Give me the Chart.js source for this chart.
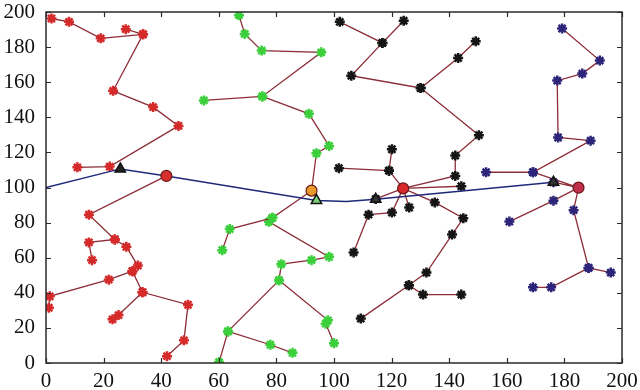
<!DOCTYPE html>
<html>
<head>
<meta charset="utf-8">
<script src="https://cdn.jsdelivr.net/npm/chart.js@4.4.1/dist/chart.umd.min.js"></script>
<style>
  html, body { margin: 0; padding: 0; background: #fff; }
  canvas { display: block; }
</style>
</head>
<body>
<canvas id="netChart" width="640" height="390"></canvas>
<script>
// axis ticks
const xTicks = [0, 20, 40, 60, 80, 100, 120, 140, 160, 180, 200];
const yTicks = [0, 20, 40, 60, 80, 100, 120, 140, 160, 180, 200];

// cluster trees, each path is a polyline of [x, y] nodes
const redPaths = [
  [[1.9, 196.3], [8.0, 194.4], [19.0, 185.0], [33.7, 187.3]],
  [[27.7, 190.2], [33.7, 187.3], [23.3, 155.1], [37.2, 145.8], [46.0, 135.1], [22.1, 111.9], [10.9, 111.5]],
  [[41.8, 106.6], [14.9, 84.5], [23.9, 70.4], [14.9, 68.7], [16.0, 58.6]],
  [[23.9, 70.4], [27.9, 66.2], [31.9, 55.5], [30.0, 52.3], [21.8, 47.5], [1.3, 38.0], [1.0, 31.5]],
  [[30.0, 52.3], [33.5, 40.3], [49.3, 33.2], [47.9, 12.9], [42.0, 3.9]],
  [[33.5, 40.3], [25.2, 27.3], [23.1, 24.9]]
];

const greenPaths = [
  [[67.0, 198.2], [69.0, 187.5], [74.9, 178.0], [95.6, 177.0], [75.1, 151.9], [54.8, 149.6]],
  [[75.1, 151.9], [91.3, 142.0], [98.3, 123.7], [93.9, 119.5], [92.2, 98.2], [78.6, 82.7], [63.8, 76.3], [61.2, 64.3]],
  [[78.6, 82.7], [77.4, 80.5], [98.3, 60.5], [92.2, 58.6], [81.7, 56.3], [80.9, 47.1], [97.9, 24.3], [97.1, 22.4], [100.0, 11.3]],
  [[80.9, 47.1], [63.2, 18.0], [60.1, 0.5]],
  [[63.2, 18.0], [77.9, 10.4], [85.6, 5.8]]
];

const blackPaths = [
  [[102.0, 194.4], [116.8, 182.4], [124.2, 195.0]],
  [[116.8, 182.4], [106.0, 163.7], [130.1, 156.7], [143.1, 173.8], [149.2, 183.3]],
  [[130.1, 156.7], [150.3, 129.8], [142.1, 118.2], [142.1, 106.6], [124.0, 99.5]],
  [[144.2, 100.7], [124.0, 99.5], [119.1, 109.6], [101.7, 111.0]],
  [[120.1, 121.8], [119.1, 109.6]],
  [[124.0, 99.5], [114.5, 93.5]],
  [[124.0, 99.5], [126.1, 88.6]],
  [[124.0, 99.5], [120.1, 85.7], [112.0, 84.5], [106.8, 63.0]],
  [[124.0, 99.5], [135.0, 91.5], [144.9, 82.5], [141.0, 73.2], [132.1, 51.5], [126.0, 44.3], [109.3, 25.3]],
  [[126.0, 44.3], [130.9, 39.0], [144.2, 39.0]]
];

const purplePaths = [
  [[179.2, 190.6], [192.3, 172.3], [186.2, 164.9], [177.5, 160.9], [177.8, 128.5], [189.1, 126.7], [169.1, 108.7], [152.8, 108.7]],
  [[169.1, 108.7], [184.9, 99.9], [176.2, 103.0]],
  [[184.9, 99.9], [176.2, 92.5], [160.9, 80.6]],
  [[184.9, 99.9], [183.2, 87.1], [188.4, 54.2], [196.1, 51.5]],
  [[188.4, 54.2], [175.4, 43.1], [169.1, 43.1]]
];

// cluster heads (circles) and their colours
const headPoints = [[41.8, 106.6], [92.2, 98.2], [124.0, 99.5], [184.9, 99.9]];
const headColors = ['#d83030', '#e89a2a', '#d82a2a', '#c0304a'];

// relay nodes (triangles) and the route to the sink
const relayPoints = [[25.8, 110.6], [93.9, 92.6], [114.5, 93.3], [176.2, 103.0]];
const relayColors = ['#222', '#7ad07a', '#333', '#333'];
const routePath = [[0, 100], [25.8, 110.6], [41.8, 106.6], [93.9, 92.6], [104.3, 92.0], [114.5, 93.3], [176.2, 103.0]];

const edgeColor = 'rgb(140,45,55)';
const toXY = arr => arr.map(p => ({ x: p[0], y: p[1] }));

function pathDatasets(paths, markerColor) {
  return paths.map(path => ({
    data: toXY(path),
    showLine: true,
    borderColor: edgeColor,
    borderWidth: 1.3,
    pointStyle: 'star',
    pointRadius: 5,
    pointBorderWidth: 2.5,
    pointBorderColor: markerColor,
    pointBackgroundColor: markerColor,
    order: 3
  }));
}

const datasets = [
  ...pathDatasets(redPaths, '#d42a2a'),
  ...pathDatasets(greenPaths, '#3ccf3c'),
  ...pathDatasets(blackPaths, '#151515'),
  ...pathDatasets(purplePaths, '#2c2478'),
  {
    data: toXY(routePath),
    showLine: true,
    borderColor: '#1e2a78',
    borderWidth: 1.5,
    pointRadius: 0,
    order: 2
  },
  {
    data: toXY(headPoints),
    showLine: false,
    pointStyle: 'circle',
    pointRadius: 5.5,
    pointBorderWidth: 1.2,
    pointBorderColor: '#6a1a1a',
    pointBackgroundColor: headColors,
    order: 1
  },
  {
    data: toXY(relayPoints),
    showLine: false,
    pointStyle: 'triangle',
    pointRadius: 6,
    pointBorderWidth: 1.5,
    pointBorderColor: '#111',
    pointBackgroundColor: relayColors,
    order: 0
  }
];

// box frame with inward tick marks on all four sides
const frameTicks = {
  id: 'frameTicks',
  afterDraw(chart) {
    const { ctx, chartArea: a, scales: { x, y } } = chart;
    ctx.save();
    ctx.strokeStyle = '#2a2a2a';
    ctx.lineWidth = 1.5;
    ctx.strokeRect(a.left, a.top, a.right - a.left, a.bottom - a.top);
    ctx.lineWidth = 1.2;
    ctx.beginPath();
    xTicks.forEach(v => {
      const px = Math.round(x.getPixelForValue(v)) + 0.5;
      ctx.moveTo(px, a.top); ctx.lineTo(px, a.top + 5);
      ctx.moveTo(px, a.bottom); ctx.lineTo(px, a.bottom - 5);
    });
    yTicks.forEach(v => {
      const py = Math.round(y.getPixelForValue(v)) + 0.5;
      ctx.moveTo(a.left, py); ctx.lineTo(a.left + 5, py);
      ctx.moveTo(a.right, py); ctx.lineTo(a.right - 5, py);
    });
    ctx.stroke();
    ctx.restore();
  }
};

const tickFont = { family: "'Liberation Serif', 'Times New Roman', serif", size: 21 };

new Chart(document.getElementById('netChart').getContext('2d'), {
  type: 'scatter',
  data: { datasets },
  options: {
    responsive: false,
    animation: false,
    layout: { padding: { top: 12, right: 18, left: 0, bottom: 0 } },
    plugins: { legend: { display: false }, tooltip: { enabled: false } },
    scales: {
      x: {
        type: 'linear',
        min: 0,
        max: 200,
        afterBuildTicks: scale => { scale.ticks = xTicks.map(v => ({ value: v })); },
        afterFit: scale => {
          scale.height = 27;
          scale.paddingLeft = 0;
          scale.paddingRight = 0;
        },
        grid: { display: false, drawTicks: false },
        border: { display: false },
        ticks: { font: tickFont, color: '#111', padding: 6, maxRotation: 0 }
      },
      y: {
        type: 'linear',
        min: 0,
        max: 200,
        afterBuildTicks: scale => { scale.ticks = yTicks.map(v => ({ value: v })); },
        afterFit: scale => {
          scale.width = 46;
          scale.paddingTop = 0;
          scale.paddingBottom = 0;
        },
        grid: { display: false, drawTicks: false },
        border: { display: false },
        ticks: { font: tickFont, color: '#111', padding: 11 }
      }
    }
  },
  plugins: [frameTicks]
});
</script>
</body>
</html>
